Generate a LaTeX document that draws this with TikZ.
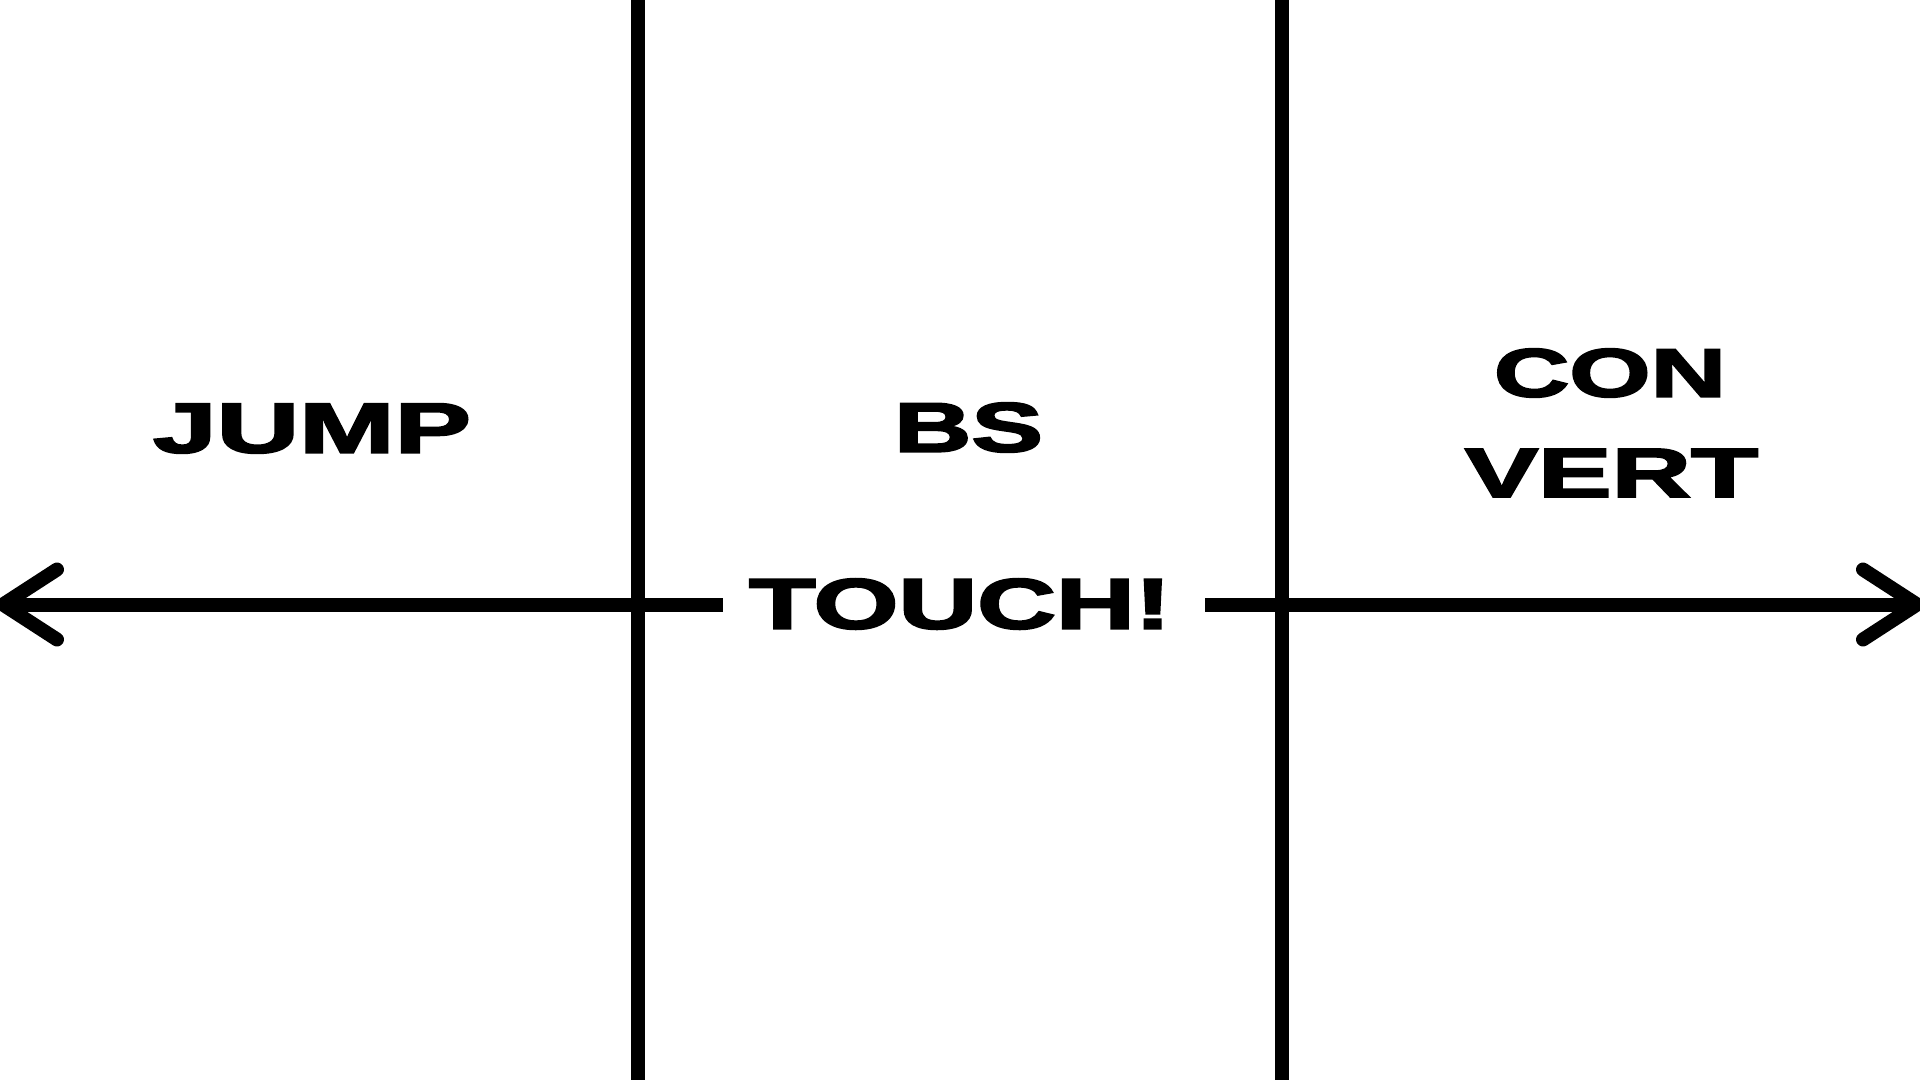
\documentclass[tikz,border=0pt]{standalone}
\usepackage{fontspec}
\usepackage{graphicx}
\setmainfont{Liberation Sans}
\newfontfamily\heavyfont[FakeBold=2.5]{Liberation Sans Bold}
\tikzset{
  bar/.style={line width=14pt, line cap=butt},
  arm/.style={line width=14pt, line cap=round, line join=round},
  lbl/.style={inner sep=0pt, outer sep=0pt, anchor=center, font=\heavyfont}
}
\newcommand\fitword[3]{\resizebox{#1}{#2}{#3}}
\begin{document}
\begin{tikzpicture}[x=1pt,y=-1pt]
\useasboundingbox[fill=white] (0,0) rectangle (1920,1080);
% vertical dividers
\coordinate (v1t) at (638,0);
\coordinate (v1b) at (638,1080);
\coordinate (v2t) at (1282,0);
\coordinate (v2b) at (1282,1080);
\draw[bar] (v1t) -- (v1b);
\draw[bar] (v2t) -- (v2b);
% labels
\node[lbl] (jump)  at (312,428.5) {\fitword{318pt}{49pt}{JUMP}};
\node[lbl] (bs)    at (968.5,427.5) {\fitword{149pt}{49pt}{BS}};
\node[lbl] (touch) at (960,604) {\fitword{422pt}{50pt}{TOUCH!}};
\node[lbl] (con)   at (1610,373) {\fitword{232pt}{48pt}{CON}};
\node[lbl] (vert)  at (1611.5,473) {\fitword{293pt}{48pt}{VERT}};
% horizontal line with arrows
\coordinate (ltip) at (3,604.5);
\coordinate (lend) at (723,604.5);
\coordinate (rbeg) at (1205,604.5);
\coordinate (rtip) at (1917,604.5);
\coordinate (la1) at (57,569.5);
\coordinate (la2) at (57,639.5);
\coordinate (ra1) at (1863,569.5);
\coordinate (ra2) at (1863,639.5);
\draw[bar] (ltip) -- (lend);
\draw[bar] (rbeg) -- (rtip);
\draw[arm] (la1) -- (ltip) -- (la2);
\draw[arm] (ra1) -- (rtip) -- (ra2);
\end{tikzpicture}
\end{document}
